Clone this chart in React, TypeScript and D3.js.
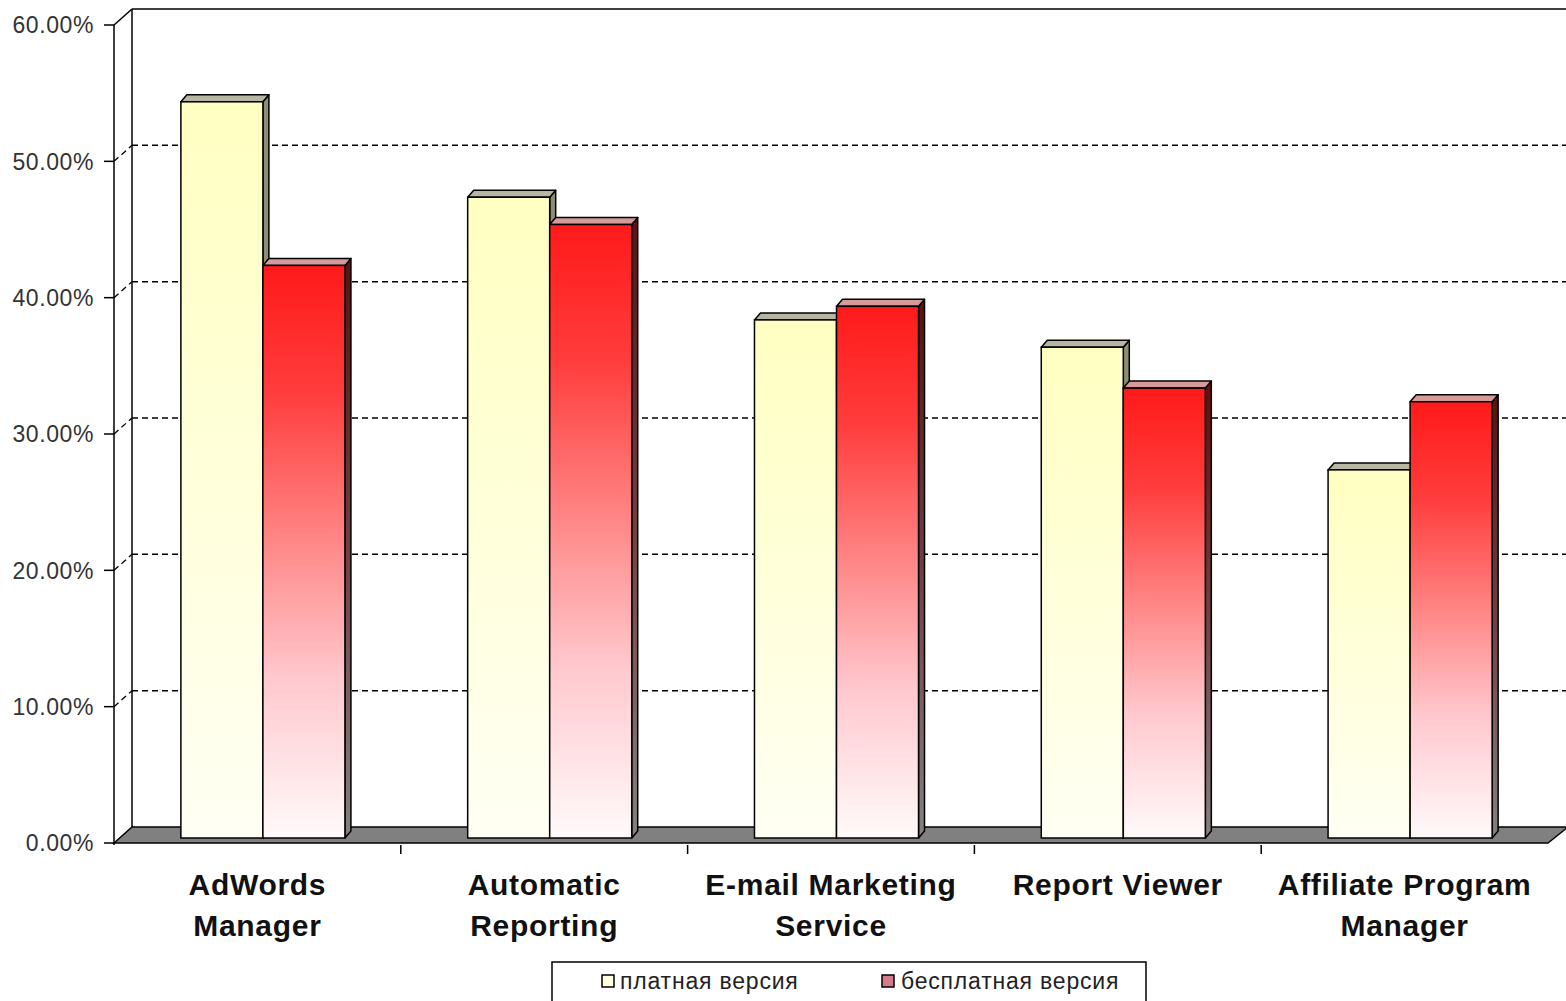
import React from "react";
import * as d3 from "d3";

const categories = [
  ["AdWords", "Manager"],
  ["Automatic", "Reporting"],
  ["E-mail Marketing", "Service"],
  ["Report Viewer"],
  ["Affiliate Program", "Manager"],
];
const seriesNames = ["платная версия", "бесплатная версия"];
const paidValues = [54, 47, 38, 36, 27];
const freeValues = [42, 45, 39, 33, 32];
const yTicks = [0, 10, 20, 30, 40, 50, 60];

const W = 1566;
const H = 1001;

export default function App() {
  const left = 114;
  const right = 1548;
  const depthX = 18;
  const depthY = -16;
  const barOffX = 5.5;
  const barOffY = -5;
  const barDX = 6;
  const barDY = -7;

  const y = d3.scaleLinear().domain([0, 60]).range([843, 25]);
  const catKeys = categories.map((c) => c.join(" "));
  const x0 = d3.scaleBand<string>().domain(catKeys).range([left, right]).padding(0);
  const groupW = x0.bandwidth() * 0.572;
  const x1 = d3.scaleBand<string>().domain(seriesNames).range([0, groupW]).padding(0);

  const series = [
    { name: seriesNames[0], values: paidValues, front: "url(#paidFront)", top: "#b6b6a2", side: "url(#paidSide)" },
    { name: seriesNames[1], values: freeValues, front: "url(#freeFront)", top: "#d69a9a", side: "url(#freeSide)" },
  ];

  const floorPts = [
    [left, y(0)],
    [left + depthX, y(0) + depthY],
    [W + 2, y(0) + depthY],
    [right, y(0)],
  ];

  const bars: React.ReactNode[] = [];
  catKeys.forEach((k, ci) => {
    const gx = (x0(k) as number) + (x0.bandwidth() - groupW) / 2 + barOffX;
    series.forEach((s, si) => {
      const bx = gx + (x1(s.name) as number);
      const bw = x1.bandwidth();
      const yt = y(s.values[ci]) + barOffY;
      const yb = y(0) + barOffY;
      const topPts = [
        [bx, yt],
        [bx + barDX, yt + barDY],
        [bx + bw + barDX, yt + barDY],
        [bx + bw, yt],
      ];
      const sidePts = [
        [bx + bw, yt],
        [bx + bw + barDX, yt + barDY],
        [bx + bw + barDX, yb + barDY],
        [bx + bw, yb],
      ];
      bars.push(
        <g key={k + si}>
          <polygon points={sidePts.map((p) => p.join(",")).join(" ")} fill={s.side} stroke="#000" strokeWidth={1.5} strokeLinejoin="round" />
          <polygon points={topPts.map((p) => p.join(",")).join(" ")} fill={s.top} stroke="#000" strokeWidth={1.5} strokeLinejoin="round" />
          <rect x={bx} y={yt} width={bw} height={yb - yt} fill={s.front} stroke="#000" strokeWidth={1.5} />
        </g>
      );
    });
  });

  return (
    <svg
      width={W}
      height={H}
      style={{ position: "absolute", left: 0, top: 0, display: "block", background: "#fff" }}
      fontFamily="'Liberation Sans', Arial, sans-serif"
    >
      <defs>
        <linearGradient id="paidFront" x1="0" y1="0" x2="0" y2="1">
          <stop offset="0" stopColor="#ffffc2" />
          <stop offset="0.5" stopColor="#ffffda" />
          <stop offset="1" stopColor="#fffff4" />
        </linearGradient>
        <linearGradient id="freeFront" x1="0" y1="0" x2="0" y2="1">
          <stop offset="0" stopColor="#ff1a1a" />
          <stop offset="0.22" stopColor="#ff3c3c" />
          <stop offset="0.5" stopColor="#ff8c8c" />
          <stop offset="0.72" stopColor="#ffc8ce" />
          <stop offset="1" stopColor="#fffafa" />
        </linearGradient>
        <linearGradient id="paidSide" x1="0" y1="0" x2="0" y2="1">
          <stop offset="0" stopColor="#8e8e74" />
          <stop offset="1" stopColor="#8a8a88" />
        </linearGradient>
        <linearGradient id="freeSide" x1="0" y1="0" x2="0" y2="1">
          <stop offset="0" stopColor="#5e1010" />
          <stop offset="0.5" stopColor="#704040" />
          <stop offset="1" stopColor="#858080" />
        </linearGradient>
      </defs>

      {/* back wall frame */}
      <line x1={left + depthX} y1={y(60) + depthY} x2={W + 2} y2={y(60) + depthY} stroke="#000" strokeWidth={1.5} />
      <line x1={left + depthX} y1={y(60) + depthY} x2={left + depthX} y2={y(0) + depthY} stroke="#000" strokeWidth={1.5} />
      <line x1={left} y1={y(60)} x2={left + depthX} y2={y(60) + depthY} stroke="#000" strokeWidth={1.5} />

      {/* gridlines */}
      {yTicks
        .filter((t) => t > 0 && t < 60)
        .map((t) => (
          <g key={"g" + t}>
            <line x1={left} y1={y(t)} x2={left + depthX} y2={y(t) + depthY} stroke="#000" strokeWidth={1.3} strokeDasharray="6,4" />
            <line x1={left + depthX} y1={y(t) + depthY} x2={W + 2} y2={y(t) + depthY} stroke="#000" strokeWidth={1.5} strokeDasharray="6,4" />
          </g>
        ))}

      {/* floor */}
      <polygon points={floorPts.map((p) => p.join(",")).join(" ")} fill="#808080" stroke="#000" strokeWidth={1.5} />

      {/* front axis */}
      <line x1={left} y1={y(60)} x2={left} y2={y(0) + 2} stroke="#000" strokeWidth={1.5} />
      {yTicks.map((t) => (
        <g key={"t" + t}>
          <line x1={left - 10} y1={y(t)} x2={left} y2={y(t)} stroke="#000" strokeWidth={1.5} />
          <text x={94} y={y(t)} dy="0.36em" textAnchor="end" fontSize={23} fill="#333" letterSpacing={0.6}>
            {t.toFixed(2) + "%"}
          </text>
        </g>
      ))}

      {/* category ticks */}
      {catKeys.slice(1).map((k) => (
        <line key={"ct" + k} x1={x0(k) as number} y1={y(0) + 2} x2={x0(k) as number} y2={y(0) + 11} stroke="#000" strokeWidth={1.5} />
      ))}

      {bars}

      {/* category labels */}
      {categories.map((lines, ci) => {
        const cx = (x0(catKeys[ci]) as number) + x0.bandwidth() / 2;
        return (
          <text key={"cl" + ci} textAnchor="middle" fontSize={30} fontWeight="bold" fill="#111" letterSpacing={0.7}>
            {lines.map((l, li) => (
              <tspan key={li} x={cx} y={895 + li * 41}>
                {l}
              </tspan>
            ))}
          </text>
        );
      })}

      {/* legend */}
      <rect x={552} y={962} width={594} height={50} fill="#fff" stroke="#000" strokeWidth={1.5} />
      <rect x={602} y={975} width={12} height={12} fill="#ffffe0" stroke="#000" strokeWidth={1.5} />
      <text x={620} y={981} dy="0.36em" fontSize={23} fill="#222" letterSpacing={0.8}>
        {seriesNames[0]}
      </text>
      <rect x={882} y={975} width={12} height={12} fill="#d47c8c" stroke="#000" strokeWidth={1.5} />
      <text x={901} y={981} dy="0.36em" fontSize={23} fill="#222" letterSpacing={0.8}>
        {seriesNames[1]}
      </text>
    </svg>
  );
}
